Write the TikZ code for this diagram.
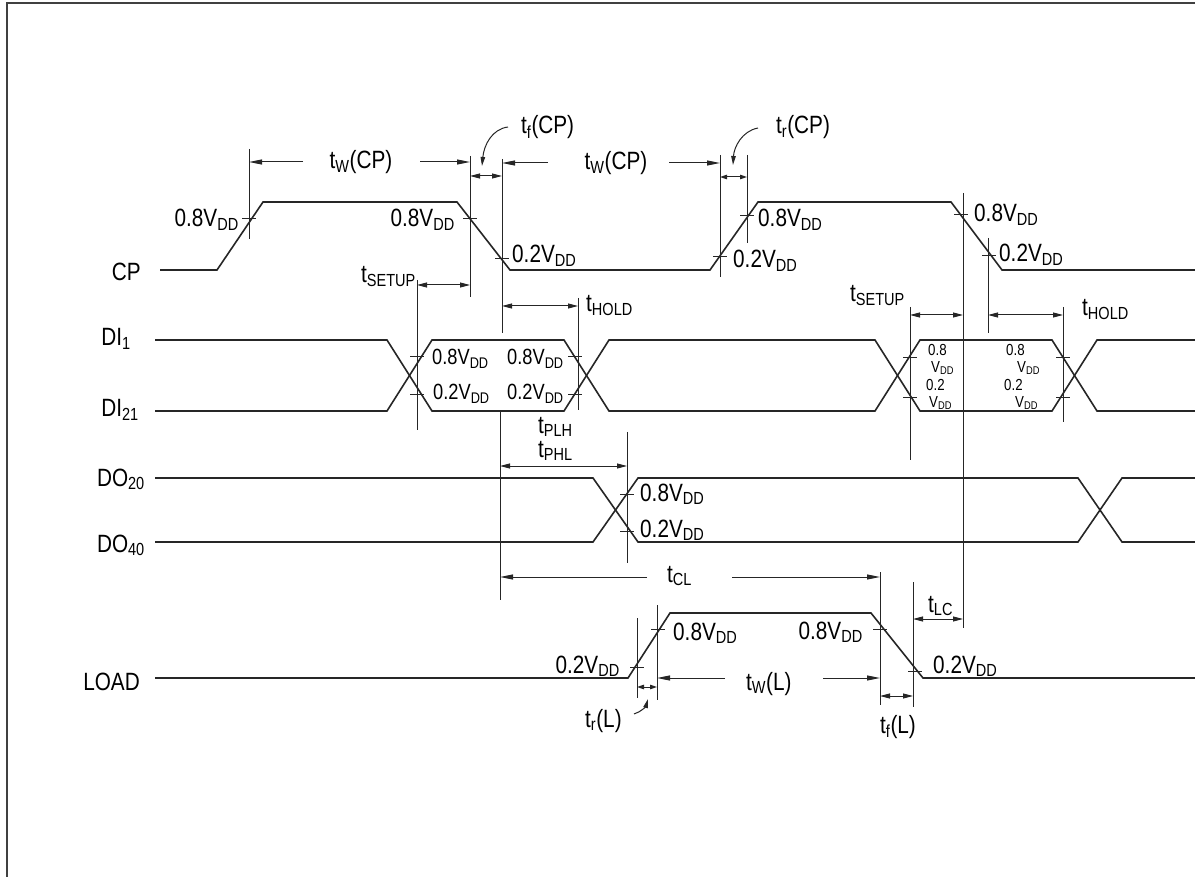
\documentclass[tikz,border=0pt]{standalone}
\usepackage{fontspec}
\setmainfont{Liberation Sans}[FakeStretch=0.83]
\usetikzlibrary{arrows.meta}
\newcommand\vdd{V\textsubscript{DD}}
\newcommand\tickmark[2]{\draw[ext] (#1-7,#2) -- (#1+7,#2);}

\begin{document}
\begin{tikzpicture}[x=1pt, y=-1pt,
  sig/.style={line width=1.6pt, draw=black!85},
  ext/.style={line width=1pt, draw=black!85},
  dim/.style={line width=1pt, draw=black!85, -{Triangle[length=13pt,width=5pt]}},
  ddim/.style={line width=1pt, draw=black!85, {Triangle[length=10pt,width=5pt]}-{Triangle[length=10pt,width=5pt]}},
  sdim/.style={line width=1pt, draw=black!85, {Triangle[length=7pt,width=4.5pt]}-{Triangle[length=7pt,width=4.5pt]}},
  cdim/.style={line width=1pt, draw=black!85, -{Triangle[length=9pt,width=4.5pt]}},
  lbl/.style={inner sep=0pt, font=\fontsize{25}{27}\selectfont},
  sml/.style={inner sep=0pt, font=\fontsize{22}{24}\selectfont},
  stk/.style={inner sep=0pt, align=left, font=\fontsize{16}{17}\selectfont}]
\useasboundingbox (0,0) rectangle (1195,877);
\draw[line width=2pt, black!75] (7,877) -- (7,3) -- (1195,3);

\node[lbl, anchor=base east] (cpname) at (141,281) {CP};
\node[lbl, anchor=base east] (diname1) at (131,346) {DI\textsubscript{1}};
\node[lbl, anchor=base east] (diname2) at (139,417) {DI\textsubscript{21}};
\node[lbl, anchor=base east] (doname1) at (145,486) {DO\textsubscript{20}};
\node[lbl, anchor=base east] (doname2) at (145,552) {DO\textsubscript{40}};
\node[lbl, anchor=base east] (loadname) at (140,690) {LOAD};

% CP
\draw[sig] (160,270) -- (217,270) -- (263,202) -- (457,202) -- (510,270) -- (710,270) -- (758,202) -- (951,202) -- (1002,270) -- (1195,270);
\draw[ext] (249,149) -- (249,239);
\draw[ext] (470,156) -- (470,297);
\draw[ext] (502,159) -- (502,333);
\draw[ext] (720,155) -- (720,277);
\draw[ext] (747,155) -- (747,243);
\draw[ext] (963,193) -- (963,628);
\draw[ext] (988,238) -- (988,333);
\tickmark{249}{219}
\tickmark{470}{219}
\tickmark{502}{259}
\tickmark{720}{257}
\tickmark{747}{216}
\tickmark{961}{215}
\tickmark{989}{256}
\node[lbl, anchor=base east] (cpa) at (239,227) {0.8\vdd};
\node[lbl, anchor=base east] (cpb) at (455,227) {0.8\vdd};
\node[lbl, anchor=base west] (cpc) at (512,263) {0.2\vdd};
\node[lbl, anchor=base west] (cpd) at (733,268) {0.2\vdd};
\node[lbl, anchor=base west] (cpe) at (758,227) {0.8\vdd};
\node[lbl, anchor=base west] (cpf) at (974,222) {0.8\vdd};
\node[lbl, anchor=base west] (cpg) at (999,262) {0.2\vdd};

\draw[dim] (303,162) -- (249,162);
\node[lbl, anchor=base] (twcp1) at (361,169) {t\textsubscript{W}(CP)};
\draw[dim] (420,162) -- (470,162);
\draw[ddim] (470,176) -- (502,176);
\node[lbl, anchor=base west] (tfcp) at (521,134) {t\textsubscript{f}(CP)};
\draw[cdim] (508,127) .. controls (492,129) and (484,145) .. (482,166);
\draw[dim] (548,163) -- (502,163);
\node[lbl, anchor=base] (twcp2) at (616,170) {t\textsubscript{W}(CP)};
\draw[dim] (669,163) -- (720,163);
\draw[sdim] (720,177) -- (747,177);
\node[lbl, anchor=base west] (trcp) at (776,134) {t\textsubscript{r}(CP)};
\draw[cdim] (758,128) .. controls (742,131) and (734,147) .. (733,165);

% setup / hold
\draw[ext] (417,280) -- (417,430);
\draw[ext] (578,298) -- (578,410);
\draw[ddim] (417,285) -- (470,285);
\node[lbl, anchor=base east] (tsu1) at (416,283) {t\textsubscript{SETUP}};
\draw[ddim] (502,306) -- (578,306);
\node[lbl, anchor=base west] (th1) at (586,312) {t\textsubscript{HOLD}};
\draw[ext] (910,307) -- (910,460);
\draw[ext] (1063,307) -- (1063,422);
\draw[ddim] (910,315) -- (963,315);
\node[lbl, anchor=base east] (tsu2) at (905,302) {t\textsubscript{SETUP}};
\draw[ddim] (988,315) -- (1063,315);
\node[lbl, anchor=base west] (th2) at (1082,316) {t\textsubscript{HOLD}};

% DI
\draw[sig] (155,340) -- (387,340) -- (432,411) -- (564,411) -- (609,340) -- (875,340) -- (920,411) -- (1052,411) -- (1097,340) -- (1195,340);
\draw[sig] (155,411) -- (387,411) -- (432,340) -- (564,340) -- (609,411) -- (875,411) -- (920,340) -- (1052,340) -- (1097,411) -- (1195,411);
\tickmark{417}{357}
\tickmark{417}{395}
\tickmark{575}{357}
\tickmark{575}{395}
\tickmark{910}{358}
\tickmark{910}{398}
\tickmark{1063}{358}
\tickmark{1063}{398}
\node[sml, anchor=base west] (dia) at (432,365) {0.8\vdd};
\node[sml, anchor=base west] (dib) at (433,400) {0.2\vdd};
\node[sml, anchor=base west] (dic) at (507,365) {0.8\vdd};
\node[sml, anchor=base west] (did) at (507,400) {0.2\vdd};
\node[stk, anchor=north west] (die) at (928,344) {0.8\\\hspace*{3pt}\vdd};
\node[stk, anchor=north west] (dif) at (926,379) {0.2\\\hspace*{3pt}\vdd};
\node[stk, anchor=north west] (dig) at (1006,344) {0.8\\\hspace*{11pt}\vdd};
\node[stk, anchor=north west] (dih) at (1004,379) {0.2\\\hspace*{11pt}\vdd};

% DO
\draw[ext] (500,412) -- (500,600);
\draw[sig] (155,478) -- (593,478) -- (638,542) -- (1078,542) -- (1122,478) -- (1195,478);
\draw[sig] (155,542) -- (593,542) -- (638,478) -- (1078,478) -- (1122,542) -- (1195,542);
\draw[ext] (627,432) -- (627,563);
\tickmark{627}{494}
\tickmark{627}{531}
\node[lbl, anchor=base west] (doa) at (640,501) {0.8\vdd};
\node[lbl, anchor=base west] (dob) at (640,537) {0.2\vdd};
\draw[ddim] (500,466) -- (627,466);
\node[lbl, anchor=base west] (tplh) at (538,433) {t\textsubscript{PLH}};
\node[lbl, anchor=base west] (tphl) at (538,457) {t\textsubscript{PHL}};
\draw[dim] (647,577) -- (500,577);
\node[lbl, anchor=base west] (tcl) at (667,582) {t\textsubscript{CL}};
\draw[dim] (732,577) -- (880,577);

% LOAD
\draw[sig] (155,678) -- (628,678) -- (670,613) -- (871,613) -- (923,678) -- (1195,678);
\draw[ext] (637,618) -- (637,698);
\draw[ext] (657,605) -- (657,700);
\draw[ext] (880,572) -- (880,705);
\draw[ext] (913,582) -- (913,707);
\tickmark{637}{667}
\tickmark{658}{629}
\tickmark{880}{629}
\tickmark{915}{671}
\node[lbl, anchor=base east] (lda) at (620,673) {0.2\vdd};
\node[lbl, anchor=base west] (ldb) at (673,640) {0.8\vdd};
\node[lbl, anchor=base east] (ldc) at (863,639) {0.8\vdd};
\node[lbl, anchor=base west] (ldd) at (933,673) {0.2\vdd};
\draw[sdim] (637,687) -- (657,687);
\node[lbl, anchor=base west] (trl) at (585,727) {t\textsubscript{r}(L)};
\draw[cdim] (634,714) .. controls (641,712) and (646,706) .. (648,699);
\draw[dim] (725,678) -- (657,678);
\node[lbl, anchor=base west] (twl) at (746,690) {t\textsubscript{W}(L)};
\draw[dim] (823,678) -- (880,678);
\draw[ddim] (880,696) -- (913,696);
\node[lbl, anchor=base west] (tfl) at (880,733) {t\textsubscript{f}(L)};
\draw[ddim] (913,619) -- (963,619);
\node[lbl, anchor=base west] (tlc) at (928,612) {t\textsubscript{LC}};
\end{tikzpicture}
\end{document}
